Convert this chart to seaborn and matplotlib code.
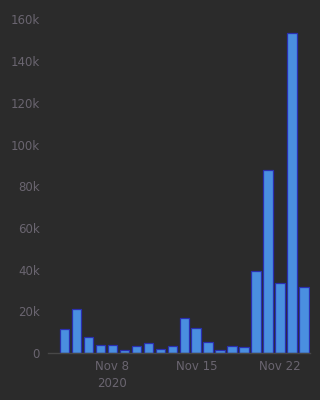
import matplotlib
matplotlib.use("Agg")
import matplotlib.pyplot as plt
import seaborn as sns
import pandas as pd

dates = ["Nov 4", "Nov 5", "Nov 6", "Nov 7", "Nov 8", "Nov 9", "Nov 10",
         "Nov 11", "Nov 12", "Nov 13", "Nov 14", "Nov 15", "Nov 16", "Nov 17",
         "Nov 18", "Nov 19", "Nov 20", "Nov 21", "Nov 22", "Nov 23", "Nov 24"]
values = [11500, 21000, 7700, 3700, 4000, 1400, 3200,
          4600, 1800, 3500, 16900, 12000, 5300, 1600,
          3500, 2900, 39300, 87800, 33600, 153500, 31500]
tick_dates = ["Nov 8", "Nov 15", "Nov 22"]
tick_labels = ["Nov 8\n2020", "Nov 15", "Nov 22"]
y_ticks = [0, 20000, 40000, 60000, 80000, 100000, 120000, 140000, 160000]
y_tick_labels = ["0", "20k", "40k", "60k", "80k", "100k", "120k", "140k", "160k"]

bg = "#2b2b2b"
txt = "#6a6570"

sns.set_theme(style="dark")
plt.rcParams["font.family"] = ["DejaVu Sans"]

df = pd.DataFrame({"date": dates, "value": values})

fig = plt.figure(figsize=(3.2, 4.0), dpi=100, facecolor=bg)
ax = fig.add_axes([0.15, 0.1175, 0.819, 0.834])
ax.set_facecolor(bg)

sns.barplot(data=df, x="date", y="value", ax=ax, color="#4a8fe0",
            saturation=1, width=0.8, edgecolor="#2a2fb0", linewidth=0.9)

ax.set_xlim(-1.38, 20.5)
ax.set_ylim(0, 160000)
ax.set_xticks([dates.index(d) for d in tick_dates])
ax.set_xticklabels(tick_labels, color=txt, fontsize=8.5, linespacing=1.45)
ax.set_yticks(y_ticks)
ax.set_yticklabels(y_tick_labels, color=txt, fontsize=8.5)
ax.tick_params(axis="x", length=0, pad=5)
ax.tick_params(axis="y", length=0, pad=6)
ax.set_xlabel("")
ax.set_ylabel("")
ax.grid(False)
for s in ["top", "right", "left"]:
    ax.spines[s].set_visible(False)
ax.spines["bottom"].set_color("#484848")
ax.spines["bottom"].set_linewidth(1)

fig.savefig("out.png", dpi=100, facecolor=bg)
